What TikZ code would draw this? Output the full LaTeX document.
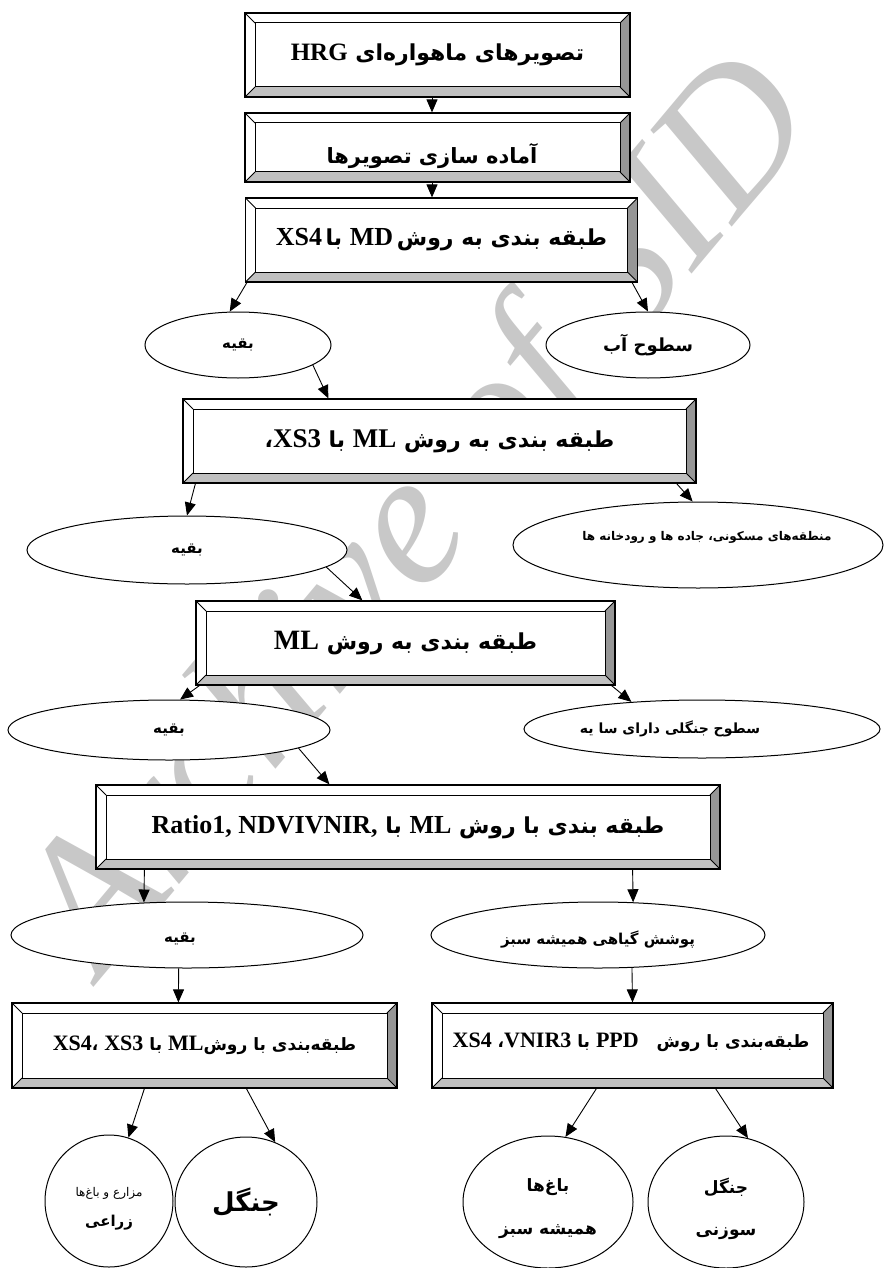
\documentclass[tikz,border=0pt]{standalone}
\usepackage{fontspec}
\usetikzlibrary{shapes.geometric,arrows.meta}
\TeXXeTstate=1
\newfontfamily\fa[Script=Arabic]{DejaVu Sans}
\newfontfamily\lat{Liberation Serif}
\newcommand\fsz[1]{\fontsize{#1pt}{#1pt}\selectfont}
\newcommand\LR[2]{{\lat\bfseries\fsz{#1}\beginL#2\endL}}
\newcommand\fab[1]{\fa\bfseries\fsz{#1}}
\newcommand\far[1]{\fa\fsz{#1}}
\definecolor{wmgray}{RGB}{200,200,200}
\definecolor{bevlight}{RGB}{192,192,192}
\definecolor{bevdark}{RGB}{150,150,150}
\def\bv{10pt}
\tikzset{
  bevbox/.style={rectangle, draw, line width=1.2pt, fill=white, inner sep=0pt,
    path picture={
      \path (path picture bounding box.south west) coordinate (pSW)
            (path picture bounding box.south east) coordinate (pSE)
            (path picture bounding box.north east) coordinate (pNE)
            (path picture bounding box.north west) coordinate (pNW);
      \fill[bevlight] (pSW) -- (pSE) -- ([shift={(-\bv,\bv)}]pSE) -- ([shift={(\bv,\bv)}]pSW) -- cycle;
      \fill[bevdark] (pSE) -- (pNE) -- ([shift={(-\bv,-\bv)}]pNE) -- ([shift={(-\bv,\bv)}]pSE) -- cycle;
      \draw[line width=1pt] ([shift={(\bv,\bv)}]pSW) rectangle ([shift={(-\bv,-\bv)}]pNE);
      \draw[line width=0.8pt] (pSW) -- ([shift={(\bv,\bv)}]pSW)
        (pSE) -- ([shift={(-\bv,\bv)}]pSE)
        (pNE) -- ([shift={(-\bv,-\bv)}]pNE)
        (pNW) -- ([shift={(\bv,-\bv)}]pNW);
    }},
  ell/.style={ellipse, draw, line width=1pt, fill=white, inner sep=0pt},
  txt/.style={inner sep=0pt},
  arr/.style={-{Triangle[length=13pt,width=11pt]}, line width=0.9pt},
}
\begin{document}
\begin{tikzpicture}[x=1pt,y=-1pt]
\useasboundingbox (0,0) rectangle (883,1268);
\node[rotate=50, text=wmgray, font=\lat\itshape\fsz{190}] (wm) at (425,520) {Archive of SID};

% boxes
\node[bevbox, minimum width=385pt, minimum height=84pt] (b1) at (437.5,55)
  {\fab{22}\beginR تصویرهای ماهواره‌ای \LR{25}{HRG}\endR};
\node[bevbox, minimum width=385pt, minimum height=69pt] (b2) at (437.5,147.5) {};
\node[txt] (t2) at (432,156) {\fab{21}\beginR آماده سازی تصویرها\endR};
\node[bevbox, minimum width=392pt, minimum height=84pt] (b3) at (441.5,240)
  {\fab{22}\beginR طبقه بندی به روش\,\LR{26}{MD} با\,\LR{26}{XS4}\endR};
\node[bevbox, minimum width=513pt, minimum height=84pt] (b4) at (439.5,441)
  {\fab{22}\beginR طبقه بندی به روش \LR{27}{ML} با \LR{27}{XS3}،\endR};
\node[bevbox, minimum width=419pt, minimum height=84pt] (b5) at (405.5,643)
  {\fab{22}\beginR طبقه بندی به روش \LR{28}{ML}\endR};
\node[bevbox, minimum width=624pt, minimum height=84pt] (b6) at (408,827)
  {\fab{22}\beginR طبقه بندی با روش \LR{26}{ML} با \LR{26}{Ratio1, NDVIVNIR,}\endR};
\node[bevbox, minimum width=385pt, minimum height=85pt] (b7) at (204.5,1045.5)
  {\fab{17}\beginR طبقه‌بندی با روش\LR{22}{ML} با \LR{22}{XS3} ،\LR{22}{XS4}\endR};
\node[bevbox, minimum width=401pt, minimum height=85pt] (b8) at (632.5,1045.5) {};
\node[txt] (t8) at (631,1042) {\fab{17}\beginR طبقه‌بندی با روش \hspace{12pt}\LR{22}{PPD} با \LR{22}{VNIR3}، \LR{22}{XS4}\endR};

% ellipses
\node[ell, minimum width=186pt, minimum height=66pt] (e1) at (238,345) {\fab{15}\beginR بقیه\endR};
\node[ell, minimum width=204pt, minimum height=66pt] (e2) at (648,345) {\fab{18}\beginR سطوح آب\endR};
\node[ell, minimum width=320pt, minimum height=68pt] (e3) at (187,550) {\fab{15}\beginR بقیه\endR};
\node[ell, minimum width=370pt, minimum height=86pt] (e4) at (698,545) {};
\node[txt] (t4) at (707,537) {\fab{12}\beginR منطقه‌های مسکونی، جاده ها و رودخانه ها\endR};
\node[ell, minimum width=322pt, minimum height=60pt] (e5) at (169,730) {\fab{15}\beginR بقیه\endR};
\node[ell, minimum width=356pt, minimum height=58pt] (e6) at (702,729) {};
\node[txt] (t6) at (670,729) {\fab{14}\beginR سطوح جنگلی دارای سا یه\endR};
\node[ell, minimum width=352pt, minimum height=66pt] (e7) at (187,935) {};
\node[txt] (t7) at (180,939) {\fab{15}\beginR بقیه\endR};
\node[ell, minimum width=334pt, minimum height=66pt] (e8) at (598,935) {};
\node[txt] (t8b) at (598,939) {\fab{15}\beginR پوشش گیاهی همیشه سبز\endR};
\node[ell, minimum width=128pt, minimum height=132pt] (e9) at (109,1201) {};
\node[txt] (t9a) at (109,1193) {\far{12}\beginR مزارع و باغ‌ها\endR};
\node[txt] (t9b) at (109,1223) {\fab{15}\beginR زراعی\endR};
\node[ell, minimum width=142pt, minimum height=130pt] (e10) at (246,1202) {\fab{26}\beginR جنگل\endR};
\node[ell, minimum width=170pt, minimum height=132pt] (e11) at (548,1202) {};
\node[txt] (t11a) at (548,1187) {\fab{17}\beginR باغ‌ها\endR};
\node[txt] (t11b) at (548,1232) {\fab{17}\beginR همیشه سبز\endR};
\node[ell, minimum width=156pt, minimum height=132pt] (e12) at (726,1202) {};
\node[txt] (t12a) at (726,1187) {\fab{17}\beginR جنگل\endR};
\node[txt] (t12b) at (726,1233) {\fab{17}\beginR سوزنی\endR};

% arrows
\draw[arr] ([xshift=-5.5pt]b1.south) -- ([xshift=-5.5pt]b2.north);
\draw[arr] ([xshift=-5.5pt]b2.south) -- ([xshift=-9.5pt]b3.north);
\draw[arr] ([xshift=2pt]b3.south west) -- (e1.104);
\draw[arr] ([xshift=-6pt]b3.south east) -- (e2.north);
\draw[arr] (e1.-15) -- ([xshift=146pt]b4.north west);
\draw[arr] ([xshift=13pt]b4.south west) -- (e3.north);
\draw[arr] ([xshift=-20pt]b4.south east) -- (e4.97);
\draw[arr] (e3.-7) -- ([xshift=167pt]b5.north west);
\draw[arr] ([xshift=4pt]b5.south west) -- (e5.70);
\draw[arr] ([xshift=-4pt]b5.south east) -- (e6.159);
\draw[arr] (e5.-8) -- ([xshift=234pt]b6.north west);
\draw[arr] ([xshift=49pt]b6.south west) -- (e7.143);
\draw[arr] ([xshift=-88pt]b6.south east) -- (e8.43);
\draw[arr] (e7.-104) -- ([xshift=167pt]b7.north west);
\draw[arr] (e8.-44) -- (b8.north);
\draw[arr] ([xshift=133pt]b7.south west) -- (e9.73);
\draw[arr] ([xshift=235pt]b7.south west) -- (e10.64);
\draw[arr] ([xshift=165pt]b8.south west) -- (e11.75);
\draw[arr] ([xshift=-118pt]b8.south east) -- (e12.71);
\end{tikzpicture}
\end{document}
